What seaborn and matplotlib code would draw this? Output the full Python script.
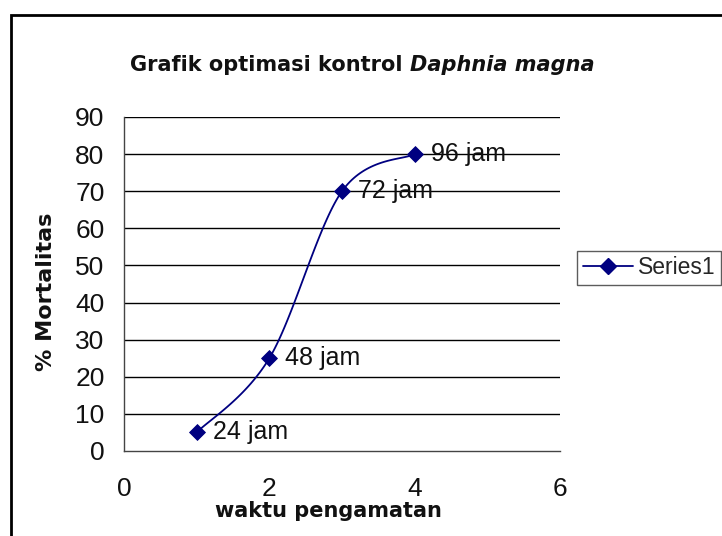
import numpy as np
import pandas as pd
import matplotlib
matplotlib.use("Agg")
import matplotlib.pyplot as plt
import seaborn as sns
from matplotlib.patches import Rectangle
from matplotlib.lines import Line2D

# data
waktu = [1, 2, 3, 4]
mortalitas = [5, 25, 70, 80]
point_labels = ["24 jam", "48 jam", "72 jam", "96 jam"]
series_name = "Series1"
xticks = [0, 2, 4, 6]
yticks = [0, 10, 20, 30, 40, 50, 60, 70, 80, 90]
title_a = "Grafik optimasi kontrol "
title_b = "Daphnia magna"
xlabel = "waktu pengamatan"
ylabel = "% Mortalitas"

sns.set_style("white")
plt.rcParams['font.family'] = ['Liberation Sans', 'DejaVu Sans']

NAVY = "#000080"
W, H = 722, 536

fig = plt.figure(figsize=(W/100, H/100), dpi=100)
ax = fig.add_axes([124/W, 1-451/H, (560-124)/W, (451-117)/H])

# Excel-like smoothed line (Bezier through the data points)
def smooth(xs, ys, n=40):
    xs = np.asarray(xs, float); ys = np.asarray(ys, float)
    px, py = [], []
    for i in range(len(xs) - 1):
        p0 = (xs[i-1], ys[i-1]) if i > 0 else (xs[i], ys[i])
        p1 = (xs[i], ys[i]); p2 = (xs[i+1], ys[i+1])
        p3 = (xs[i+2], ys[i+2]) if i + 2 < len(xs) else p2
        c1 = (p1[0] + (p2[0]-p0[0])/6, p1[1] + (p2[1]-p0[1])/6)
        c2 = (p2[0] - (p3[0]-p1[0])/6, p2[1] - (p3[1]-p1[1])/6)
        t = np.linspace(0, 1, n)
        bx = (1-t)**3*p1[0] + 3*(1-t)**2*t*c1[0] + 3*(1-t)*t**2*c2[0] + t**3*p2[0]
        by = (1-t)**3*p1[1] + 3*(1-t)**2*t*c1[1] + 3*(1-t)*t**2*c2[1] + t**3*p2[1]
        px.extend(bx); py.extend(by)
    return np.array(px), np.array(py)

sx, sy = smooth(waktu, mortalitas)
ax.plot(sx, sy, color=NAVY, lw=1.3, zorder=3)

df = pd.DataFrame({"waktu": waktu, "mortalitas": mortalitas})
sns.scatterplot(data=df, x="waktu", y="mortalitas", marker="D", s=65,
                color=NAVY, edgecolor=NAVY, ax=ax, zorder=4, legend=False)

for x, y, lab in zip(waktu, mortalitas, point_labels):
    ax.annotate(lab, (x, y), xytext=(11.5, 0), textcoords="offset points",
                ha="left", va="center", fontsize=18, color="#111111")

ax.set_xlim(0, 6)
ax.set_ylim(0, 90)
ax.set_xticks(xticks)
ax.set_yticks(yticks)
ax.tick_params(axis="both", labelsize=19, direction="out", length=6, width=1,
               colors="#444444", labelcolor="#111111")
ax.tick_params(axis="y", pad=8)
ax.tick_params(axis="x", pad=13)
for yv in yticks[1:]:
    ax.axhline(yv, color="black", lw=1.0, zorder=1)
for s in ["top", "right"]:
    ax.spines[s].set_visible(False)
for s in ["left", "bottom"]:
    ax.spines[s].set_color("#444444")
    ax.spines[s].set_linewidth(1)
ax.set_facecolor("none")
ax.set_xlabel("")
ax.set_ylabel("")

bold_fam = ['DejaVu Sans']
fig.text(328/W, 1-517/H, xlabel, fontsize=15, fontweight="bold",
         family=bold_fam, ha="center", va="baseline", color="#111111")
fig.text(46/W, 1-292/H, ylabel, fontsize=16, fontweight="bold",
         family=bold_fam, rotation=90, ha="center", va="center", color="#111111")

# title: bold upright part + bold italic part, centered together
renderer = fig.canvas.get_renderer()
ty = 1 - 71/H
ta = fig.text(0, ty, title_a, fontsize=15, fontweight="bold", family=bold_fam,
              ha="left", va="baseline", color="#111111")
tb = fig.text(0, ty, title_b, fontsize=15, fontweight="bold", style="italic",
              family=bold_fam, ha="left", va="baseline", color="#111111")
wa = ta.get_window_extent(renderer).width
wb = tb.get_window_extent(renderer).width
x0 = 362 - (wa + wb) / 2
ta.set_x(x0 / W)
tb.set_x((x0 + wa) / W)

# outer chart frame
fig.patches.append(Rectangle((11/W, -0.05), 1.0, 1-15/H+0.05,
                             transform=fig.transFigure, fill=False,
                             edgecolor="black", lw=2))

handle = Line2D([], [], color=NAVY, marker="D", markersize=8, lw=1.3)
leg = fig.legend([handle], [series_name], loc="center left",
                 bbox_to_anchor=(577/W, 1-268/H), fontsize=16.5,
                 frameon=True, fancybox=False, edgecolor="#333333",
                 handlelength=2.2, borderpad=0.25, handletextpad=0.2,
                 borderaxespad=0)
leg.get_frame().set_linewidth(1)

fig.savefig("out.png", dpi=100, facecolor="white")
